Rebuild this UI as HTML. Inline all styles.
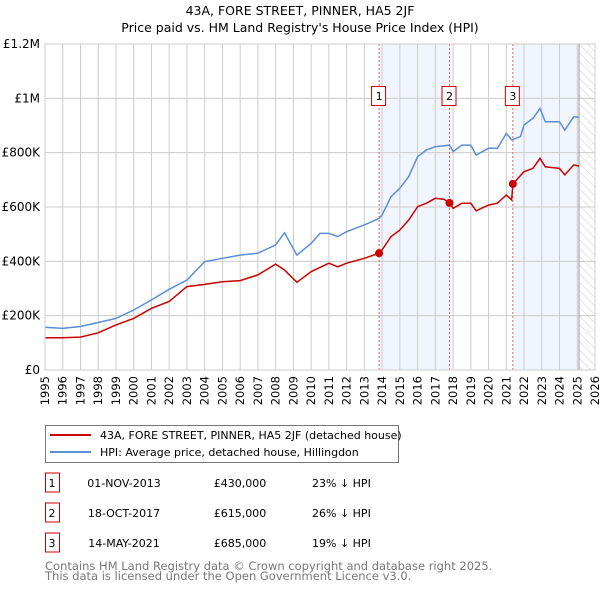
<!DOCTYPE html>
<html><head><meta charset="utf-8"><style>
body{margin:0;background:#fff;}
svg{display:block;font-family:"DejaVu Sans","Liberation Sans",sans-serif;}
</style></head><body>
<svg id="chart" width="600" height="590" viewBox="0 0 600 590" xmlns="http://www.w3.org/2000/svg">
<defs>
<pattern id="hatch" width="6" height="6" patternUnits="userSpaceOnUse" patternTransform="rotate(-45)">
<line x1="0" y1="0" x2="0" y2="6" stroke="#ccc" stroke-width="1"/>
</pattern>
</defs>
<text x="300" y="15" text-anchor="middle" font-size="12.5" fill="#000">43A, FORE STREET, PINNER, HA5 2JF</text>
<text x="300" y="32" text-anchor="middle" font-size="12.5" fill="#000">Price paid vs. HM Land Registry's House Price Index (HPI)</text>
<g id="bg"></g>
<g id="grid"></g>
<g id="series"></g>
<g id="axes"></g>
<g>
<rect x="45.5" y="425.5" width="353" height="37" fill="#fff" stroke="#777"/>
<line x1="50" y1="435" x2="91" y2="435" stroke="#cc0000" stroke-width="2"/>
<text x="100" y="439" font-size="11">43A, FORE STREET, PINNER, HA5 2JF (detached house)</text>
<line x1="50" y1="452" x2="91" y2="452" stroke="#5b8fd4" stroke-width="2"/>
<text x="100" y="456" font-size="11">HPI: Average price, detached house, Hillingdon</text>
</g>
<g id="table" font-size="11"></g>
<text x="45" y="570" font-size="11.5" fill="#777">Contains HM Land Registry data © Crown copyright and database right 2025.</text>
<text x="45" y="580" font-size="11.5" fill="#777">This data is licensed under the Open Government Licence v3.0.</text>
</svg>
<script>
const hpiYears=[1995,1996,1997,1998,1999,2000,2001,2002,2003,2004,2005,2006,2007,2008,2008.5,2009.2,2010,2010.5,2011,2011.5,2012,2013,2013.83,2014,2014.5,2015,2015.5,2016,2016.5,2017,2017.8,2018,2018.5,2019,2019.3,2020,2020.5,2021,2021.3,2021.8,2022,2022.5,2022.9,2023.2,2024,2024.3,2024.8,2025.1];
const hpiValues=[157,153,160,175,190,221,258,297,331,399,411,423,430,460,505,423,466,503,503,491,509,534,558,571,638,669,712,785,810,822,828,804,828,828,791,816,816,871,847,859,902,926,963,914,914,883,932,930];
const propYears=[1995,1996,1997,1998,1999,2000,2001,2002,2003,2004,2005,2006,2007,2008,2008.5,2009.2,2010,2011,2011.5,2012,2013,2013.83,2014,2014.5,2015,2015.5,2016,2016.5,2017,2017.5,2017.8,2018,2018.5,2019,2019.3,2020,2020.5,2021,2021.3,2021.37,2022,2022.5,2022.9,2023.2,2024,2024.3,2024.8,2025.1];
const propValues=[119,119,121,137,166,190,227,252,307,315,325,329,350,390,368,323,362,393,380,393,411,430,442,491,515,552,601,614,632,628,615,595,614,614,586,607,614,644,626,685,730,742,779,748,742,718,755,751];
const saleYears=[2013.83,2017.8,2021.37];
const saleValues=[430,615,685];
const saleLabels=["1","2","3"];
const saleDates=["01-NOV-2013","18-OCT-2017","14-MAY-2021"];
const salePrices=["£430,000","£615,000","£685,000"];
const salePcts=["23% ↓ HPI","26% ↓ HPI","19% ↓ HPI"];
const yTicks=[0,200,400,600,800,1000,1200];
const yTickLabels=["£0","£200K","£400K","£600K","£800K","£1M","£1.2M"];
const xTicks=[1995,1996,1997,1998,1999,2000,2001,2002,2003,2004,2005,2006,2007,2008,2009,2010,2011,2012,2013,2014,2015,2016,2017,2018,2019,2020,2021,2022,2023,2024,2025,2026];
const dataEnd=2025.1;

const NS="http://www.w3.org/2000/svg";
const X=y=>45+(y-1995)*(550/31);
const Y=v=>370-v*(326/1200);
function mk(parent,tag,attrs){const e=document.createElementNS(NS,tag);for(const k in attrs)e.setAttribute(k,attrs[k]);document.getElementById(parent).appendChild(e);return e;}

// shaded ownership bands
for(let i=0;i<saleYears.length;i+=2){
  const a=saleYears[i], b=i+1<saleYears.length?saleYears[i+1]:dataEnd;
  const r=mk('bg','rect',{x:X(a),y:Y(1200),width:X(b)-X(a),height:Y(0)-Y(1200),fill:'#eef3fc',opacity:0.8});
  
  
}
const h=mk('bg','rect',{x:X(dataEnd),y:Y(1200),width:X(2026)-X(dataEnd),height:Y(0)-Y(1200),fill:'url(#hatch)'});



yTicks.forEach((t,i)=>{
  const l=mk('grid','line',{x1:X(1995),x2:X(2026),y1:Y(t),y2:Y(t),stroke:'#ccc','stroke-width':1});
  
  
  const tx=mk('axes','text',{x:40,y:Y(t)+4,'text-anchor':'end','font-size':12});
  tx.textContent=yTickLabels[i];
  
  
});
xTicks.forEach(t=>{
  const l=mk('grid','line',{x1:X(t),x2:X(t),y1:Y(0),y2:Y(1200),stroke:'#ccc','stroke-width':1});
  
  
  const tx=mk('axes','text',{x:0,y:0,'text-anchor':'end','font-size':11.5,transform:`translate(${X(t)+4},${376}) rotate(-90)`});
  tx.textContent=t;
  
  
});
const dl=mk('grid','line',{x1:X(dataEnd),x2:X(dataEnd),y1:Y(0),y2:Y(1200),stroke:'#999','stroke-width':1});



function path(xs,vs){return xs.map((x,i)=>(i?'L':'M')+X(x).toFixed(1)+','+Y(vs[i]).toFixed(1)).join(' ');}
saleYears.forEach((s,i)=>{
  const l=mk('series','line',{x1:X(s),x2:X(s),y1:Y(0),y2:Y(1200),stroke:'#e06060','stroke-width':1,'stroke-dasharray':'2,2'});
  
  
});
const hp=mk('series','path',{d:path(hpiYears,hpiValues),fill:'none',stroke:'#5b8fd4','stroke-width':1.5});


const pp=mk('series','path',{d:path(propYears,propValues),fill:'none',stroke:'#cc0000','stroke-width':1.5});


saleYears.forEach((s,i)=>{
  const c=mk('series','circle',{cx:X(s),cy:Y(saleValues[i]),r:4,fill:'#cc0000'});
  
  
  const b=mk('series','rect',{x:X(s)-7.5,y:86.5,width:14,height:19,fill:'#fff',stroke:'#cc0000'});
  
  
  const t=mk('series','text',{x:X(s),y:100,'text-anchor':'middle','font-size':11});
  t.textContent=saleLabels[i];
  
  
});
saleYears.forEach((s,i)=>{
  const cy=483+i*30;
  const b=mk('table','rect',{x:45.5,y:cy-10,width:14,height:19,fill:'#fff',stroke:'#cc0000'});
  
  
  const vals=[[52,saleLabels[i],'middle'],[124,saleDates[i],'middle'],[240,salePrices[i],'middle'],[312,salePcts[i],'start']];
  vals.forEach(v=>{
    const t=mk('table','text',{x:v[0],y:cy+4,'text-anchor':v[2]});
    t.textContent=v[1];
    
    
  });
});
const ax=mk('axes','rect',{x:X(1995),y:Y(1200),width:X(2026)-X(1995),height:Y(0)-Y(1200),fill:'none',stroke:'#ccc'});


</script>
</body></html>
